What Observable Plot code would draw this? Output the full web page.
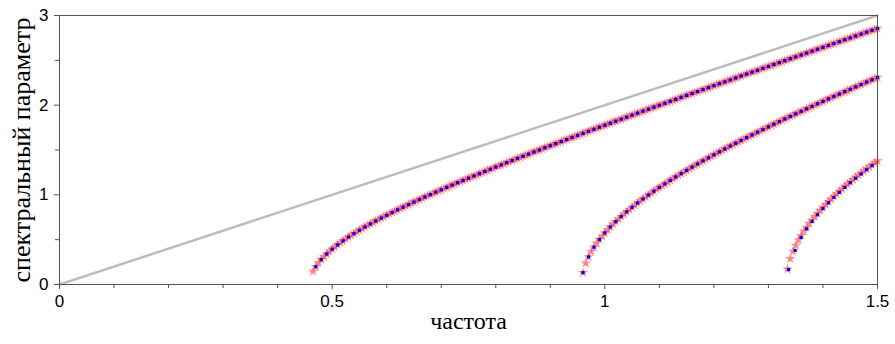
<!DOCTYPE html>
<html>
<head>
<meta charset="utf-8">
<script src="https://cdn.jsdelivr.net/npm/d3@7"></script>
<script src="https://cdn.jsdelivr.net/npm/@observablehq/plot@0.6"></script>
<style>
  html, body { margin: 0; padding: 0; background: #fff; }
  #chart { width: 895px; height: 344px; }
</style>
</head>
<body>
<div id="chart"></div>
<script>
// ---- data (frequency, spectral parameter) ----
const xLabel = "частота";
const yLabel = "спектральный параметр";
const xMajorTicks = [0, 0.5, 1, 1.5];
const xMinorTicks = [0.1, 0.2, 0.3, 0.4, 0.6, 0.7, 0.8, 0.9, 1.1, 1.2, 1.3, 1.4];
const yMajorTicks = [0, 1, 2, 3];
const yMinorTicks = [0.5, 1.5, 2.5];
const lightLineX = [0, 1.5];
const lightLineY = [0, 3];

// mode 1 (red stars; blue dots sit on every other sample)
const mode1 = [
[0.465,0.145],[0.470,0.199],[0.475,0.242],[0.480,0.279],[0.485,0.311],[0.490,0.341],[0.495,0.369],[0.500,0.395],
[0.505,0.420],[0.510,0.443],[0.515,0.466],[0.520,0.487],[0.525,0.508],[0.530,0.529],[0.535,0.549],[0.540,0.568],
[0.545,0.587],[0.550,0.605],[0.555,0.623],[0.560,0.641],[0.565,0.658],[0.570,0.675],[0.575,0.692],[0.580,0.708],
[0.585,0.725],[0.590,0.741],[0.595,0.756],[0.600,0.772],[0.605,0.787],[0.610,0.803],[0.615,0.818],[0.620,0.833],
[0.625,0.848],[0.630,0.862],[0.635,0.877],[0.640,0.891],[0.645,0.906],[0.650,0.920],[0.655,0.934],[0.660,0.948],
[0.665,0.962],[0.670,0.976],[0.675,0.989],[0.680,1.003],[0.685,1.016],[0.690,1.030],[0.695,1.043],[0.700,1.056],
[0.705,1.070],[0.710,1.083],[0.715,1.096],[0.720,1.109],[0.725,1.122],[0.730,1.135],[0.735,1.148],[0.740,1.160],
[0.745,1.173],[0.750,1.186],[0.755,1.198],[0.760,1.211],[0.765,1.223],[0.770,1.236],[0.775,1.248],[0.780,1.261],
[0.785,1.273],[0.790,1.285],[0.795,1.298],[0.800,1.310],[0.805,1.322],[0.810,1.334],[0.815,1.346],[0.820,1.359],
[0.825,1.371],[0.830,1.383],[0.835,1.395],[0.840,1.407],[0.845,1.418],[0.850,1.430],[0.855,1.442],[0.860,1.454],
[0.865,1.466],[0.870,1.478],[0.875,1.489],[0.880,1.501],[0.885,1.513],[0.890,1.525],[0.895,1.536],[0.900,1.548],
[0.905,1.560],[0.910,1.571],[0.915,1.583],[0.920,1.594],[0.925,1.606],[0.930,1.617],[0.935,1.629],[0.940,1.640],
[0.945,1.652],[0.950,1.663],[0.955,1.675],[0.960,1.686],[0.965,1.697],[0.970,1.709],[0.975,1.720],[0.980,1.731],
[0.985,1.743],[0.990,1.754],[0.995,1.765],[1.000,1.777],[1.005,1.788],[1.010,1.799],[1.015,1.810],[1.020,1.821],
[1.025,1.833],[1.030,1.844],[1.035,1.855],[1.040,1.866],[1.045,1.877],[1.050,1.888],[1.055,1.900],[1.060,1.911],
[1.065,1.922],[1.070,1.933],[1.075,1.944],[1.080,1.955],[1.085,1.966],[1.090,1.977],[1.095,1.988],[1.100,1.999],
[1.105,2.010],[1.110,2.021],[1.115,2.032],[1.120,2.043],[1.125,2.054],[1.130,2.065],[1.135,2.076],[1.140,2.087],
[1.145,2.098],[1.150,2.109],[1.155,2.119],[1.160,2.130],[1.165,2.141],[1.170,2.152],[1.175,2.163],[1.180,2.174],
[1.185,2.185],[1.190,2.196],[1.195,2.206],[1.200,2.217],[1.205,2.228],[1.210,2.239],[1.215,2.250],[1.220,2.260],
[1.225,2.271],[1.230,2.282],[1.235,2.293],[1.240,2.304],[1.245,2.314],[1.250,2.325],[1.255,2.336],[1.260,2.347],
[1.265,2.357],[1.270,2.368],[1.275,2.379],[1.280,2.389],[1.285,2.400],[1.290,2.411],[1.295,2.422],[1.300,2.432],
[1.305,2.443],[1.310,2.454],[1.315,2.464],[1.320,2.475],[1.325,2.486],[1.330,2.496],[1.335,2.507],[1.340,2.518],
[1.345,2.528],[1.350,2.539],[1.355,2.550],[1.360,2.560],[1.365,2.571],[1.370,2.581],[1.375,2.592],[1.380,2.603],
[1.385,2.613],[1.390,2.624],[1.395,2.634],[1.400,2.645],[1.405,2.656],[1.410,2.666],[1.415,2.677],[1.420,2.687],
[1.425,2.698],[1.430,2.708],[1.435,2.719],[1.440,2.730],[1.445,2.740],[1.450,2.751],[1.455,2.761],[1.460,2.772],
[1.465,2.782],[1.470,2.793],[1.475,2.803],[1.480,2.814],[1.485,2.824],[1.490,2.835],[1.495,2.845],[1.500,2.856]
];

// mode 2
const mode2 = [
[0.960,0.133],[0.965,0.237],[0.970,0.308],[0.975,0.366],[0.980,0.416],[0.985,0.461],[0.990,0.502],[0.995,0.540],
[1.000,0.576],[1.005,0.609],[1.010,0.642],[1.015,0.672],[1.020,0.702],[1.025,0.731],[1.030,0.758],[1.035,0.785],
[1.040,0.811],[1.045,0.836],[1.050,0.861],[1.055,0.885],[1.060,0.909],[1.065,0.932],[1.070,0.954],[1.075,0.977],
[1.080,0.998],[1.085,1.020],[1.090,1.041],[1.095,1.062],[1.100,1.082],[1.105,1.102],[1.110,1.122],[1.115,1.142],
[1.120,1.161],[1.125,1.181],[1.130,1.200],[1.135,1.218],[1.140,1.237],[1.145,1.255],[1.150,1.273],[1.155,1.291],
[1.160,1.309],[1.165,1.327],[1.170,1.344],[1.175,1.362],[1.180,1.379],[1.185,1.396],[1.190,1.413],[1.195,1.429],
[1.200,1.446],[1.205,1.463],[1.210,1.479],[1.215,1.495],[1.220,1.512],[1.225,1.528],[1.230,1.544],[1.235,1.560],
[1.240,1.575],[1.245,1.591],[1.250,1.607],[1.255,1.622],[1.260,1.638],[1.265,1.653],[1.270,1.668],[1.275,1.683],
[1.280,1.698],[1.285,1.714],[1.290,1.728],[1.295,1.743],[1.300,1.758],[1.305,1.773],[1.310,1.788],[1.315,1.802],
[1.320,1.817],[1.325,1.831],[1.330,1.846],[1.335,1.860],[1.340,1.874],[1.345,1.889],[1.350,1.903],[1.355,1.917],
[1.360,1.931],[1.365,1.945],[1.370,1.959],[1.375,1.973],[1.380,1.987],[1.385,2.001],[1.390,2.015],[1.395,2.029],
[1.400,2.042],[1.405,2.056],[1.410,2.070],[1.415,2.083],[1.420,2.097],[1.425,2.110],[1.430,2.124],[1.435,2.137],
[1.440,2.151],[1.445,2.164],[1.450,2.177],[1.455,2.191],[1.460,2.204],[1.465,2.217],[1.470,2.230],[1.475,2.244],
[1.480,2.257],[1.485,2.270],[1.490,2.283],[1.495,2.296],[1.500,2.309]
];

// mode 3: red stars
const mode3Stars = [
[1.335,0.170],[1.340,0.287],[1.345,0.369],[1.350,0.436],[1.355,0.494],[1.360,0.546],[1.365,0.594],[1.370,0.638],
[1.375,0.680],[1.380,0.719],[1.385,0.757],[1.390,0.793],[1.395,0.827],[1.400,0.860],[1.405,0.892],[1.410,0.923],
[1.415,0.953],[1.420,0.983],[1.425,1.011],[1.430,1.039],[1.435,1.066],[1.440,1.093],[1.445,1.119],[1.450,1.145],
[1.455,1.170],[1.460,1.194],[1.465,1.219],[1.470,1.242],[1.475,1.266],[1.480,1.289],[1.485,1.312],[1.490,1.334],
[1.495,1.357],[1.500,1.378]
];
// mode 3: blue dots
const mode3Dots = [
[1.337,0.167],[1.349,0.380],[1.360,0.525],[1.370,0.621],[1.380,0.704],[1.390,0.778],[1.400,0.847],[1.410,0.911],
[1.420,0.971],[1.430,1.028],[1.440,1.083],[1.450,1.135],[1.460,1.185],[1.470,1.233],[1.480,1.280],[1.490,1.326]
];

// ---- build ----
const onGrid = d => Math.round(d[0] * 1000) % 10 === 0;
const stars = [...mode1, ...mode2, ...mode3Stars];
const dots = [...mode1.filter(onGrid), ...mode2.filter(onGrid), ...mode3Dots];
const light = lightLineX.map((x, i) => ({x, y: lightLineY[i]}));

const axisColor = "#555";
const serif = "'Liberation Serif', 'Times New Roman', serif";
const chart = Plot.plot({
  width: 895,
  height: 344,
  marginLeft: 59,
  marginRight: 18,
  marginTop: 15,
  marginBottom: 60,
  style: {fontFamily: "'Liberation Sans', Arial, Helvetica, sans-serif", fontSize: "17px", color: "#000", background: "#fff"},
  x: {domain: [0, 1.5]},
  y: {domain: [0, 3]},
  marks: [
    Plot.line(light, {x: "x", y: "y", stroke: "#bdbdbd", strokeWidth: 2.5}),
    Plot.dot(stars, {x: d => d[0], y: d => d[1], symbol: "star", r: 3.2, fill: "#ff2a2a", fillOpacity: 0.55, stroke: "none"}),
    Plot.dot(dots, {x: d => d[0], y: d => d[1], symbol: "square", r: 1.8, fill: "#0000ff", stroke: "none"}),
    Plot.frame({stroke: axisColor, strokeWidth: 1}),
    Plot.axisX({ticks: xMinorTicks, tickSize: 4, tickFormat: () => "", label: null, stroke: axisColor}),
    Plot.axisX({ticks: xMajorTicks, tickSize: 5, tickPadding: 5, tickFormat: d => String(d), label: null, stroke: axisColor, fontSize: 17}),
    Plot.axisY({ticks: yMinorTicks, tickSize: 4, tickFormat: () => "", label: null, stroke: axisColor}),
    Plot.axisY({ticks: yMajorTicks, tickSize: 5, tickPadding: 6, tickFormat: d => String(d), label: null, stroke: axisColor, fontSize: 17}),
    Plot.text([xLabel], {frameAnchor: "bottom", dy: 44, text: d => d, textAnchor: "middle", fontFamily: serif, fontSize: 24, fill: "#000"}),
    Plot.text([yLabel], {frameAnchor: "left", dx: -38, rotate: -90, text: d => d, textAnchor: "middle", fontFamily: serif, fontSize: 26, fill: "#000"})
  ]
});
document.getElementById("chart").appendChild(chart);
</script>
</body>
</html>
